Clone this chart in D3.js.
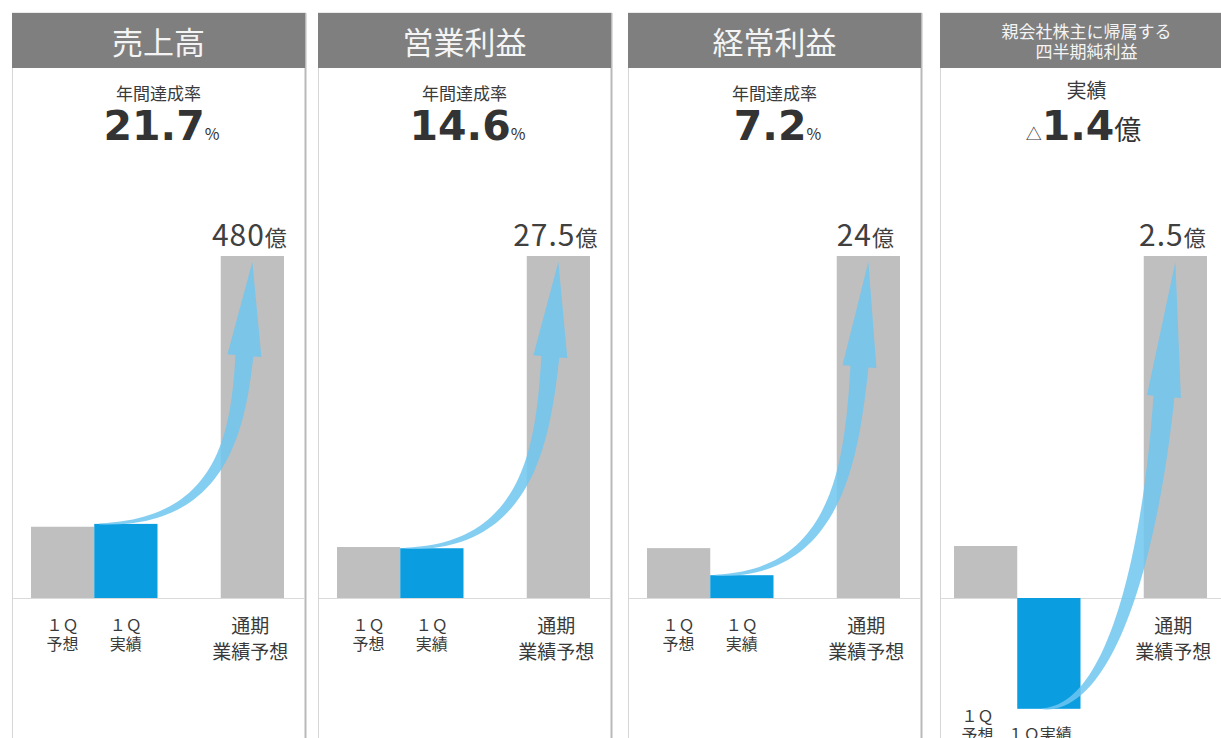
<!DOCTYPE html>
<html>
<head>
<meta charset="utf-8">
<script src="https://cdn.jsdelivr.net/npm/d3@7"></script>
<style>
  body { margin: 0; background: #fff; }
  text { font-family: "Noto Sans CJK JP", sans-serif; }
</style>
</head>
<body>
<div id="chart"></div>
<script>
// --------------- Data ---------------
const titleLines = [["売上高"], ["営業利益"], ["経常利益"], ["親会社株主に帰属する", "四半期純利益"]];
const kpiLabels = ["年間達成率", "年間達成率", "年間達成率", "実績"];
const kpiPrefix = ["", "", "", "△"];
const kpiValues = ["21.7", "14.6", "7.2", "1.4"];
const kpiUnits = ["%", "%", "%", "億"];

const categories = ["1Q予想", "1Q実績", "通期業績予想"];
const categoryLines = [["１Ｑ", "予想"], ["１Ｑ", "実績"], ["通期", "業績予想"]];

// bar heights as drawn (億円)
const forecast1Q = [100, 4.1, 3.5, 0.38];
const actual1Q = [104, 4.0, 1.6, -0.81];
const fullYear = [480, 27.5, 24, 2.5];

// --------------- Layout ---------------
const WIDTH = 1221;
const HEIGHT = 738;
const PANEL_X = [12, 318, 628, 940];
const PANEL_W = 293;
const HEAD_TOP = 13;
const HEAD_BOTTOM = 68;
const BASE_Y = 598;
const TOP_Y = 256;
const BAR_SHIFT = [0, 0, 0, -5];
const HEAD_LEN = [94, 95, 105, 135];
const GRAY = "#bfbfbf";
const BLUE = "#0a9de0";
const ARROW = "#6ec6f0";
const TEXT = "#3a3a3a";

const svg = d3
  .select("#chart")
  .append("svg")
  .attr("width", WIDTH)
  .attr("height", HEIGHT);

const x = d3
  .scaleBand()
  .domain([categories[0], categories[1], "", categories[2]])
  .range([19, 272])
  .paddingInner(0);

titleLines.forEach((lines, i) => drawPanel(i));

// multi-line text as one <text> with stacked tspans
function multiline(g, lines, cx, y0, step, size, fill) {
  const t = g.append("text")
    .attr("x", cx).attr("y", y0)
    .attr("text-anchor", "middle")
    .attr("font-size", size).attr("fill", fill);
  lines.forEach((s, j) => {
    t.append("tspan")
      .attr("x", cx)
      .attr("dy", j === 0 ? 0 : step)
      .text(s);
  });
  return t;
}

function drawPanel(i) {
  const g = svg.append("g").attr("transform", `translate(${PANEL_X[i]},0)`);
  const cx = PANEL_W / 2;
  const shift = BAR_SHIFT[i];
  const bw = x.bandwidth();

  // frame
  g.append("rect")
    .attr("x", 0.5).attr("y", HEAD_TOP)
    .attr("width", PANEL_W).attr("height", HEIGHT)
    .attr("fill", "#fff").attr("stroke", "#d6d6d6");
  g.append("line")
    .attr("x1", PANEL_W + 0.5).attr("x2", PANEL_W + 0.5)
    .attr("y1", HEAD_TOP).attr("y2", HEIGHT)
    .attr("stroke", "#b9b9b9").attr("stroke-width", 2);

  // header
  g.append("rect")
    .attr("x", 0).attr("y", HEAD_TOP)
    .attr("width", PANEL_W).attr("height", HEAD_BOTTOM - HEAD_TOP)
    .attr("fill", "#7f7f7f");
  const lines = titleLines[i];
  if (lines.length === 1) {
    multiline(g, lines, cx, 54, 0, 31, "#f4f4f4");
  } else {
    multiline(g, lines, cx, 38, 20, 17, "#f4f4f4");
  }

  // KPI
  g.append("text")
    .attr("x", cx).attr("y", i === 3 ? 98 : 100)
    .attr("text-anchor", "middle")
    .attr("font-size", i === 3 ? 20 : 17).attr("fill", TEXT)
    .text(kpiLabels[i]);
  const kpi = g.append("text")
    .attr("x", cx + (i === 3 ? -3 : 3)).attr("y", 140)
    .attr("text-anchor", "middle").attr("fill", "#333");
  if (kpiPrefix[i]) kpi.append("tspan").attr("font-size", 16).text(kpiPrefix[i]);
  kpi.append("tspan")
    .style("font-family", "'DejaVu Sans', Verdana, sans-serif")
    .attr("font-weight", "bold").attr("font-size", 41)
    .text(kpiValues[i]);
  kpi.append("tspan")
    .attr("font-size", kpiUnits[i] === "%" ? 16 : 27)
    .text(kpiUnits[i]);

  // scale
  const y = d3.scaleLinear().domain([0, fullYear[i]]).range([BASE_Y, TOP_Y]);

  // baseline
  g.append("line")
    .attr("x1", 1).attr("x2", PANEL_W - 1)
    .attr("y1", BASE_Y + 0.5).attr("y2", BASE_Y + 0.5)
    .attr("stroke", "#dadada");

  const bars = [
    { key: categories[0], v: forecast1Q[i], fill: GRAY },
    { key: categories[1], v: actual1Q[i], fill: BLUE },
    { key: categories[2], v: fullYear[i], fill: GRAY }
  ];
  g.append("g")
    .selectAll("rect")
    .data(bars)
    .enter()
    .append("rect")
    .attr("x", d => x(d.key) + shift)
    .attr("width", bw)
    .attr("y", d => Math.min(y(d.v), y(0)))
    .attr("height", d => Math.abs(y(d.v) - y(0)))
    .attr("fill", d => d.fill);

  // full-year value label
  const vl = g.append("text")
    .attr("x", x(categories[2]) + shift + bw / 2 - 3)
    .attr("y", 246)
    .attr("text-anchor", "middle").attr("fill", "#404040");
  vl.append("tspan").attr("font-size", 30).attr("letter-spacing", 1).text(fullYear[i]);
  vl.append("tspan").attr("font-size", 22).text("億");

  // category labels
  const neg = actual1Q[i] < 0;
  const low = y(actual1Q[i]);
  categoryLines.forEach((ls, k) => {
    const bx = x(categories[k]) + shift + bw / 2;
    if (k === 2) {
      multiline(g, ls, bx - 2, 633, 26, 19, TEXT);
    } else if (neg && k === 1) {
      multiline(g, [ls.join("")], bx - 9, low + 31, 0, 16, TEXT);
    } else {
      multiline(g, ls, neg ? bx - 8 : bx, neg ? low + 13 : 631, 19, 16, TEXT);
    }
  });

  // curved arrow from 1Q actual to full-year forecast
  const ax = x(categories[1]) + shift;
  const p0 = neg ? [ax + 0.4 * bw, low] : [ax + 5, y(actual1Q[i])];
  const tip = [x(categories[2]) + shift + bw / 2, y(fullYear[i]) + 6];
  g.append("path")
    .attr("d", arrowPath(p0, tip, HEAD_LEN[i], neg ? 0.6 : 0.85, neg ? 10 : 8.5))
    .attr("fill", ARROW)
    .attr("fill-opacity", 0.85);
}

function arrowPath(p0, tip, headLen, pull, maxHalf) {
  const lean = 0.085;
  const dl = Math.hypot(lean, 1);
  const dir = [lean / dl, -1 / dl];
  const B = [tip[0] - dir[0] * headLen, tip[1] - dir[1] * headLen];
  const span = p0[1] - B[1];
  const c1 = [p0[0] + pull * (B[0] - p0[0]), p0[1]];
  const c2 = [B[0] - dir[0] * 0.45 * span, B[1] - dir[1] * 0.45 * span];
  const headHalf = 17;
  const n = 50;
  const left = [], right = [];
  for (let s = 0; s <= n; s++) {
    const t = s / n, u = 1 - t;
    const px = u * u * u * p0[0] + 3 * u * u * t * c1[0] + 3 * u * t * t * c2[0] + t * t * t * B[0];
    const py = u * u * u * p0[1] + 3 * u * u * t * c1[1] + 3 * u * t * t * c2[1] + t * t * t * B[1];
    let dx = 3 * u * u * (c1[0] - p0[0]) + 6 * u * t * (c2[0] - c1[0]) + 3 * t * t * (B[0] - c2[0]);
    let dy = 3 * u * u * (c1[1] - p0[1]) + 6 * u * t * (c2[1] - c1[1]) + 3 * t * t * (B[1] - c2[1]);
    const len = Math.hypot(dx, dy) || 1;
    dx /= len; dy /= len;
    const w = 0.5 + maxHalf * Math.pow(t, 0.8);
    left.push([px + dy * w, py - dx * w]);
    right.push([px - dy * w, py + dx * w]);
  }
  const nx = -dir[1], ny = dir[0];
  const pts = left
    .concat([[B[0] - nx * headHalf, B[1] - ny * headHalf], tip, [B[0] + nx * headHalf, B[1] + ny * headHalf]])
    .concat(right.reverse());
  return d3.line()(pts) + "Z";
}
</script>
</body>
</html>
